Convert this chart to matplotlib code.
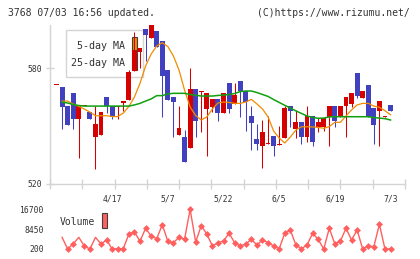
import numpy as np
import matplotlib
matplotlib.use('Agg')
import matplotlib.pyplot as plt
from matplotlib.patches import Rectangle

# daily candles, 4/3 .. 7/3 (index 0..60)
opens = [571.0, 570.3, 560.3, 566.9, 553.8, 560.3, 557.2, 544.1, 545.5, 564.8,
         560.3, 559.7, 561.7, 563.4, 578.6, 588.1, 600.0, 595.7, 599.1, 594.0,
         579.0, 564.8, 545.3, 544.5, 538.8, 569.1, 567.8, 559.0, 559.7, 564.0,
         556.9, 572.2, 561.5, 573.3, 568.0, 555.2, 543.3, 539.8, 540.9, 544.8,
         540.0, 544.0, 560.3, 548.6, 552.1, 544.5, 555.2, 549.7, 549.7, 554.8,
         560.3, 554.8, 560.3, 561.5, 577.4, 564.5, 571.2, 559.3, 557.9, 554.8,
         560.9]
closes = [571.0, 560.0, 550.7, 553.8, 560.3, 560.3, 553.8, 551.0, 557.2, 560.3,
          554.8, 560.3, 562.9, 577.8, 589.3, 590.2, 596.9, 602.2, 591.0, 576.0,
          563.4, 562.6, 549.1, 531.5, 569.1, 552.7, 568.1, 567.1, 564.0, 556.9,
          567.1, 558.9, 566.0, 568.0, 562.6, 551.7, 540.8, 546.9, 541.1, 539.8,
          540.2, 559.3, 557.9, 552.1, 544.5, 555.2, 541.9, 552.1, 554.1, 560.3,
          552.7, 560.3, 565.0, 567.1, 565.5, 568.1, 554.8, 550.7, 562.9, 555.2,
          557.9]
highs = [571.0, 570.3, 560.3, 566.9, 560.3, 560.3, 557.2, 560.3, 557.2, 564.8,
         560.3, 560.3, 562.9, 579.0, 598.8, 590.2, 600.0, 602.2, 599.1, 594.0,
         579.0, 564.8, 560.3, 548.0, 579.8, 569.1, 568.1, 567.1, 564.0, 564.0,
         567.1, 572.2, 572.2, 573.3, 568.0, 560.3, 551.0, 553.1, 555.2, 544.8,
         550.0, 560.3, 560.3, 558.3, 552.1, 560.3, 555.2, 554.1, 554.1, 560.3,
         560.3, 560.3, 565.0, 567.1, 577.4, 568.1, 571.2, 559.3, 562.9, 555.2,
         560.9]
lows = [571.0, 548.6, 550.7, 548.6, 533.6, 560.3, 553.8, 528.0, 545.5, 556.7,
        553.6, 553.6, 557.9, 563.4, 578.6, 579.8, 583.8, 595.7, 591.0, 554.8,
        563.4, 544.5, 545.3, 531.5, 538.8, 544.5, 546.7, 534.6, 557.0, 552.7,
        556.9, 556.9, 561.5, 554.8, 547.6, 537.6, 537.6, 528.4, 540.9, 534.6,
        540.0, 544.0, 549.6, 543.9, 540.8, 541.9, 539.8, 546.7, 547.6, 539.8,
        549.6, 554.8, 544.5, 559.7, 564.5, 564.5, 554.8, 540.8, 539.8, 554.8,
        557.9]

ma5 = [np.nan, 562.9, 562.9, 561.4, 560.1, 558.8, 557.2, 555.3, 555.3, 555.3,
       554.9, 554.9, 556.7, 560.1, 565.0, 572.1, 581.0, 587.2, 591.4, 593.1,
       591.1, 586.2, 579.0, 568.6, 559.8, 555.4, 553.1, 554.7, 558.8, 561.9,
       562.4, 562.2, 561.7, 561.7, 562.4, 563.8, 561.4, 558.8, 554.7, 547.4,
       543.8, 541.2, 544.3, 547.9, 549.6, 549.6, 549.5, 549.3, 548.8, 549.7,
       551.9, 551.9, 555.2, 558.3, 560.9, 561.7, 561.7, 560.3, 559.7, 557.9,
       555.8]
ma25 = [np.nan, 562.3, 561.9, 561.1, 560.6, 560.3, 560.3, 560.3, 560.3, 560.3,
        560.3, 560.3, 560.3, 560.3, 560.9, 561.7, 562.9, 564.0, 565.7, 565.7,
        566.6, 566.9, 566.9, 566.9, 566.3, 565.9, 565.5, 565.5, 565.5, 565.8,
        566.0, 566.3, 566.8, 567.8, 568.1, 568.1, 567.3, 566.3, 565.3, 563.7,
        562.2, 560.7, 559.3, 557.8, 556.5, 555.2, 554.4, 554.0, 554.1, 554.7,
        554.8, 554.8, 554.8, 554.8, 554.8, 554.8, 554.8, 554.4, 554.1, 553.8,
        553.1]

volume = [np.nan, 5060, 200, 2280, 5060, 1450, 200, 5060, 2280, 3940,
          200, 320, 320, 6430, 7270, 3400, 8800, 5600, 4480, 10300,
          3400, 2820, 5060, 4230, 16700, 3110, 9880, 6430, 1450, 2820,
          3520, 6720, 2820, 1450, 2280, 4230, 1860, 3940, 2820, 1450,
          320, 6720, 8100, 1860, 320, 1860, 6720, 4230, 200, 8800,
          2280, 3520, 8800, 3940, 8100, 200, 1450, 1160, 10470, 200,
          200]
no_marker = [0, 1, 4, 7]

date_pos = [10, 20, 30, 40, 50, 60]
date_labels = ['4/17', '5/7', '5/22', '6/5', '6/19', '7/3']

RED = '#d50000'
BLUE = '#4141bf'
GRID = '#d4d4d4'
TXT = '#333333'
MONO = 'DejaVu Sans Mono'

W, H = 420, 259


def fx(px):
    return px / W


def fy(py):
    return 1 - py / H


fig = plt.figure(figsize=(4.2, 2.59), dpi=100)
ax = fig.add_axes([fx(50), fy(184), fx(355), (184 - 24.5) / H])
axv = fig.add_axes([fx(50), fy(255), fx(355), 50 / H])

x = np.arange(len(opens))
xlim = (-1.168, 62.6)

# candles
for i in x:
    o, c = opens[i], closes[i]
    col = RED if c >= o else BLUE
    ax.vlines(i, lows[i], highs[i], color=col, lw=0.75, zorder=3)
    ax.bar(i, max(abs(c - o), 0.55), bottom=min(o, c), width=0.88,
           color=col, linewidth=0, zorder=4)

ax.plot(x, ma5, color='#f08c00', lw=0.9, zorder=5)
ax.plot(x, ma25, color='#10a010', lw=1.1, zorder=5)

ax.set_xlim(*xlim)
ax.set_ylim(520, 602.5)
for s in ['top', 'right']:
    ax.spines[s].set_visible(False)
for s in ['left', 'bottom']:
    ax.spines[s].set_color(GRID)
    ax.spines[s].set_linewidth(1)
ax.set_yticks([520, 580])
ax.set_yticklabels(['520', '580'], family=MONO, fontsize=5.8, color=TXT)
ax.tick_params(axis='y', direction='inout', length=6, width=1, color=GRID, pad=3)
ax.set_xticks(np.linspace(xlim[0], xlim[1], 12), minor=True)
ax.set_xticks(date_pos)
ax.set_xticklabels(date_labels, family=MONO, fontsize=5.8, color=TXT)
ax.tick_params(axis='x', which='major', length=0, pad=7.5)
ax.tick_params(axis='x', which='minor', direction='inout', length=6.5,
               width=1, color=GRID)

# legend box (candles sit on top of it)
ax.add_patch(Rectangle((fx(65.7), fy(76.7)), fx(77.6), (76.7 - 30) / H,
                       transform=fig.transFigure, facecolor='white',
                       edgecolor=GRID, lw=1, zorder=1))
ax.add_patch(Rectangle((fx(131.7), fy(52.3)), fx(5.6), 15.6 / H,
                       transform=fig.transFigure, facecolor='#f08c00',
                       edgecolor='#404040', lw=0.8, zorder=2))
ax.add_patch(Rectangle((fx(131.7), fy(70)), fx(5.6), 17 / H,
                       transform=fig.transFigure, facecolor='#10a010',
                       edgecolor='#404040', lw=0.8, zorder=2))
ax.text(fx(125), fy(46), '5-day MA', transform=fig.transFigure, ha='right',
        va='center', family=MONO, fontsize=7.2, color=TXT, zorder=2)
ax.text(fx(125), fy(63.3), '25-day MA', transform=fig.transFigure, ha='right',
        va='center', family=MONO, fontsize=7.2, color=TXT, zorder=2)

# volume
marks = [i for i in x if i not in no_marker]
axv.plot(x, volume, color='#ff5f5f', lw=1, marker='D', ms=3.5,
         markevery=marks, markeredgewidth=0)
axv.set_xlim(*xlim)
axv.set_ylim(-2294, 18487)
for s in axv.spines.values():
    s.set_visible(False)
axv.set_xticks([])
axv.set_yticks([200, 8450, 16700])
axv.set_yticklabels(['200', '8450', '16700'], family=MONO, fontsize=5.8, color=TXT)
axv.tick_params(axis='y', length=0, pad=4.5)
axv.patch.set_alpha(0)

fig.text(fx(59.3), fy(222.3), 'Volume', ha='left', va='center', family=MONO,
         fontsize=7, color=TXT)
fig.patches.append(Rectangle((fx(101.7), fy(228)), fx(5.6), 15 / H,
                             transform=fig.transFigure, facecolor='#ff6060',
                             edgecolor='#404040', lw=0.8))

fig.text(fx(8.3), fy(12.7), '3768 07/03 16:56 updated.', ha='left', va='center',
         family=MONO, fontsize=7.0, color=TXT)
fig.text(fx(410), fy(12.7), '(C)https://www.rizumu.net/', ha='right', va='center',
         family=MONO, fontsize=7.0, color=TXT)

fig.savefig('out.png', dpi=100)
